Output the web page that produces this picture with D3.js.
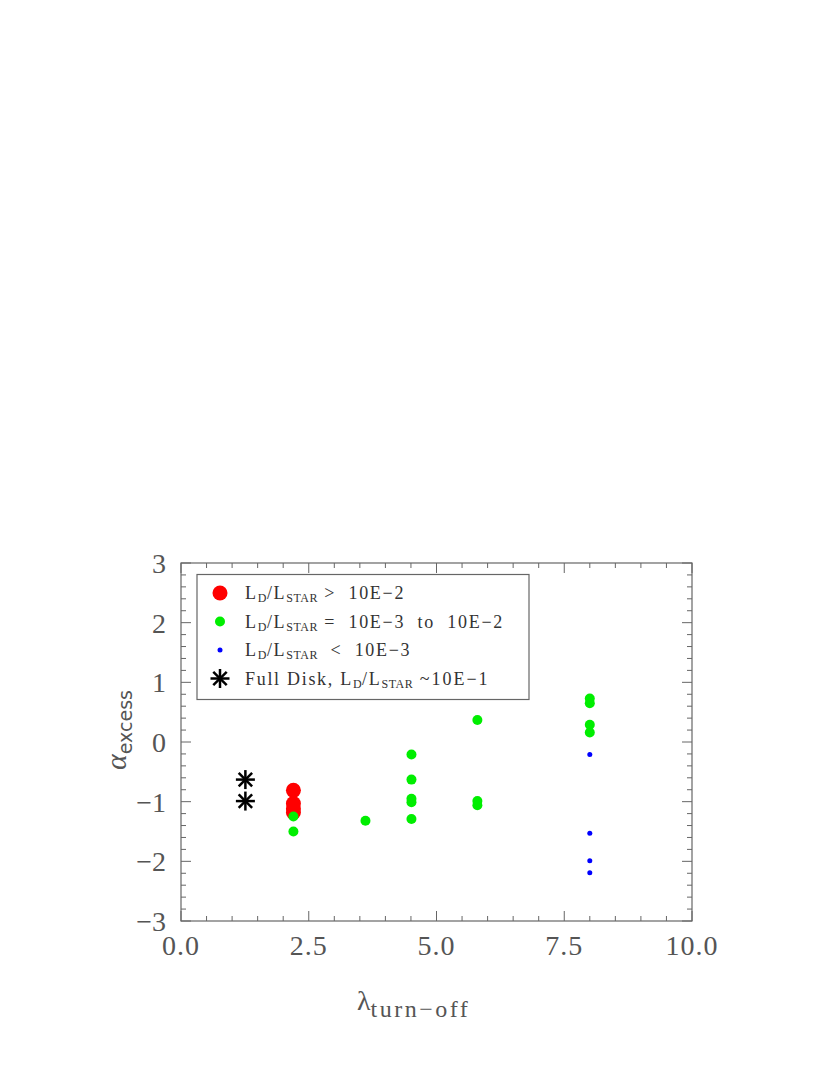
<!DOCTYPE html>
<html>
<head>
<meta charset="utf-8">
<script src="https://cdn.jsdelivr.net/npm/d3@7"></script>
<style>
  body { margin: 0; background: #fff; }
  text { font-family: "Liberation Serif", "DejaVu Serif", serif; }
</style>
</head>
<body>
<script>
// data
var fullDiskX = [1.26, 1.26];
var fullDiskY = [-0.63, -0.99];

var redX = [2.2, 2.2, 2.2, 2.2];
var redY = [-0.81, -1.03, -1.12, -1.18];

var greenX = [2.2, 2.2, 3.61, 4.51, 4.51, 4.51, 4.51, 4.51, 5.8, 5.8, 5.8, 8.0, 8.0, 8.0, 8.0];
var greenY = [-1.25, -1.50, -1.32, -0.21, -0.63, -0.95, -1.01, -1.29, 0.37, -0.99, -1.06, 0.73, 0.65, 0.29, 0.16];

var blueX = [8.0, 8.0, 8.0, 8.0];
var blueY = [-0.21, -1.53, -1.99, -2.19];

var xTicks = [0, 2.5, 5, 7.5, 10];
var xTickLabels = ["0.0", "2.5", "5.0", "7.5", "10.0"];
var yTicks = [-3, -2, -1, 0, 1, 2, 3];
var yTickLabels = ["\u22123", "\u22122", "\u22121", "0", "1", "2", "3"];

var width = 830, height = 1075;
var plotL = 181, plotR = 692, plotT = 563, plotB = 921;

var svg = d3.select("body").append("svg")
  .attr("width", width)
  .attr("height", height);

var x = d3.scaleLinear().domain([0, 10]).range([plotL, plotR]);
var y = d3.scaleLinear().domain([-3, 3]).range([plotB, plotT]);

var axisColor = "#666";

// frame
svg.append("rect")
  .attr("x", plotL).attr("y", plotT)
  .attr("width", plotR - plotL).attr("height", plotB - plotT)
  .attr("fill", "none").attr("stroke", axisColor).attr("stroke-width", 1.2);

// ticks on all four sides, pointing inward
var xMinor = d3.range(0, 10.01, 0.5);
var yMinor = d3.range(-3, 3.01, 0.2);

function isMajor(v, step) { return Math.abs(v / step - Math.round(v / step)) < 1e-6; }

var tg = svg.append("g").attr("stroke", axisColor).attr("stroke-width", 1);
xMinor.forEach(function(v) {
  var len = isMajor(v, 2.5) ? 10 : 5;
  tg.append("line").attr("x1", x(v)).attr("x2", x(v)).attr("y1", plotB).attr("y2", plotB - len);
  tg.append("line").attr("x1", x(v)).attr("x2", x(v)).attr("y1", plotT).attr("y2", plotT + len);
});
yMinor.forEach(function(v) {
  var len = isMajor(v, 1) ? 10 : 5;
  tg.append("line").attr("y1", y(v)).attr("y2", y(v)).attr("x1", plotL).attr("x2", plotL + len);
  tg.append("line").attr("y1", y(v)).attr("y2", y(v)).attr("x1", plotR).attr("x2", plotR - len);
});

// tick labels
svg.append("g").selectAll("text")
  .data(xTicks)
  .enter().append("text")
  .attr("x", function(d) { return x(d); })
  .attr("y", 955)
  .attr("text-anchor", "middle")
  .attr("font-size", 28)
  .attr("letter-spacing", 1)
  .attr("fill", "#555")
  .text(function(d, i) { return xTickLabels[i]; });

svg.append("g").selectAll("text")
  .data(yTicks)
  .enter().append("text")
  .attr("x", 166)
  .attr("y", function(d) { return y(d) + 10; })
  .attr("text-anchor", "end")
  .attr("font-size", 28)
  .attr("fill", "#555")
  .text(function(d, i) { return yTickLabels[i]; });

// axis titles
var xt = svg.append("text")
  .attr("x", 357).attr("y", 1010)
  .attr("font-size", 28).attr("fill", "#555");
xt.append("tspan").text("\u03bb");
xt.append("tspan").attr("dy", 7).attr("font-size", 24).attr("letter-spacing", 2.5).text("turn\u2212off");

var yt = svg.append("text")
  .attr("transform", "translate(126,770) rotate(-90)")
  .attr("font-size", 30).attr("fill", "#555");
yt.append("tspan").attr("font-style", "italic").text("\u03b1");
yt.append("tspan").attr("dy", 6).attr("font-size", 19).attr("font-family", "DejaVu Sans").text("excess");

// asterisk marker
function asterisk(g, cx, cy, r) {
  var a = g.append("g").attr("stroke", "#000").attr("stroke-width", 2.5);
  [0, 45, 90, 135].forEach(function(ang) {
    var t = ang * Math.PI / 180;
    a.append("line")
      .attr("x1", cx - r * Math.cos(t)).attr("y1", cy - r * Math.sin(t))
      .attr("x2", cx + r * Math.cos(t)).attr("y2", cy + r * Math.sin(t));
  });
}

var marks = svg.append("g");
d3.range(fullDiskX.length).forEach(function(i) {
  asterisk(marks, x(fullDiskX[i]), y(fullDiskY[i]), 9.5);
});

marks.append("g").selectAll("circle")
  .data(d3.range(redX.length)).enter().append("circle")
  .attr("cx", function(i) { return x(redX[i]); })
  .attr("cy", function(i) { return y(redY[i]); })
  .attr("r", 7.5).attr("fill", "#ff0000");

marks.append("g").selectAll("circle")
  .data(d3.range(greenX.length)).enter().append("circle")
  .attr("cx", function(i) { return x(greenX[i]); })
  .attr("cy", function(i) { return y(greenY[i]); })
  .attr("r", 5).attr("fill", "#00ee00");

marks.append("g").selectAll("circle")
  .data(d3.range(blueX.length)).enter().append("circle")
  .attr("cx", function(i) { return x(blueX[i]); })
  .attr("cy", function(i) { return y(blueY[i]); })
  .attr("r", 2.5).attr("fill", "#0000ff");

// legend
var lg = svg.append("g");
lg.append("rect")
  .attr("x", 197).attr("y", 574.5)
  .attr("width", 332).attr("height", 125)
  .attr("fill", "#fff").attr("stroke", axisColor).attr("stroke-width", 1.2);

var legendRows = [
  { type: "red", rest: " >  10E\u22122" },
  { type: "green", rest: " =  10E\u22123  to  10E\u22122" },
  { type: "blue", rest: "  <  10E\u22123" },
  { type: "star", rest: "" }
];
var rowY = [593, 621.5, 650, 678.5];

legendRows.forEach(function(r, i) {
  var cy = rowY[i];
  if (r.type === "red") lg.append("circle").attr("cx", 220).attr("cy", cy).attr("r", 7.5).attr("fill", "#ff0000");
  if (r.type === "green") lg.append("circle").attr("cx", 220).attr("cy", cy).attr("r", 5).attr("fill", "#00ee00");
  if (r.type === "blue") lg.append("circle").attr("cx", 220).attr("cy", cy).attr("r", 2.5).attr("fill", "#0000ff");
  if (r.type === "star") asterisk(lg, 220, cy, 9.5);

  var t = lg.append("text")
    .attr("x", 245).attr("y", cy + 6)
    .attr("font-size", 18).attr("fill", "#333")
    .attr("letter-spacing", 1.7)
    .style("white-space", "pre");
  if (r.type === "star") {
    t.append("tspan").text("Full Disk, L");
  } else {
    t.append("tspan").text("L");
  }
  t.append("tspan").attr("dy", 3).attr("font-size", 12).attr("letter-spacing", 0.5).text("D");
  t.append("tspan").attr("dy", -3).text("/L");
  t.append("tspan").attr("dy", 3).attr("font-size", 12).attr("letter-spacing", 0.5).text("STAR");
  if (r.type === "star") {
    t.append("tspan").attr("dy", -3).attr("letter-spacing", 2).text(" ~10E\u22121");
  } else {
    t.append("tspan").attr("dy", -3).text(r.rest);
  }
});
</script>
</body>
</html>
